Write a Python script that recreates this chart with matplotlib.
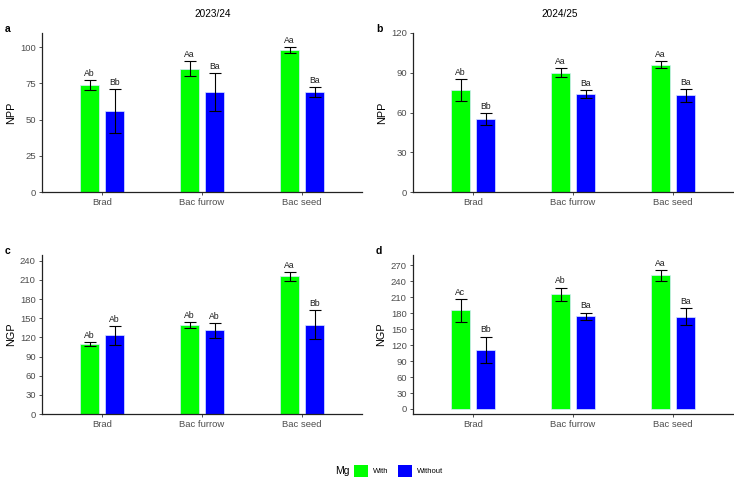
import matplotlib.pyplot as plt
import numpy as np
from matplotlib.patches import Patch

plt.rcParams['font.family'] = ['Liberation Sans', 'DejaVu Sans']

# dati
tratamentos = ['Brad', 'Bac furrow', 'Bac seed']
grupos = ['With', 'Without']
cores = ['#00FF00', '#0000FF']

npp_2324_com = [74, 85, 98]
npp_2324_com_err = [3.3, 5.2, 2.0]
npp_2324_sem = [56, 69, 69]
npp_2324_sem_err = [15, 13, 3.2]
npp_2324_let_com = ['Ab', 'Aa', 'Aa']
npp_2324_let_sem = ['Bb', 'Ba', 'Ba']

npp_2425_com = [77, 90, 96]
npp_2425_com_err = [8, 3.5, 2.5]
npp_2425_sem = [55, 74, 73]
npp_2425_sem_err = [4.3, 2.8, 5]
npp_2425_let_com = ['Ab', 'Aa', 'Aa']
npp_2425_let_sem = ['Bb', 'Ba', 'Ba']

ngp_2324_com = [109, 139, 216]
ngp_2324_com_err = [3, 5, 7]
ngp_2324_sem = [123, 131, 140]
ngp_2324_sem_err = [14.5, 12, 22.5]
ngp_2324_let_com = ['Ab', 'Ab', 'Aa']
ngp_2324_let_sem = ['Ab', 'Ab', 'Bb']

ngp_2425_com = [185, 215, 251]
ngp_2425_com_err = [21, 13, 10]
ngp_2425_sem = [111, 174, 173]
ngp_2425_sem_err = [25, 7, 16]
ngp_2425_let_com = ['Ac', 'Ab', 'Aa']
ngp_2425_let_sem = ['Bb', 'Ba', 'Ba']

W, H = 734, 479
fig = plt.figure(figsize=(W / 100, H / 100), dpi=100)


def pannello(rect, com, com_err, sem, sem_err, let_com, let_sem,
             ylabel, yticks, ylim, lettera):
    l, t, w, h = rect
    ax = fig.add_axes([l / W, 1 - (t + h) / H, w / W, h / H])
    x = np.arange(1, len(tratamentos) + 1)
    off = 0.125
    larg = 0.195
    for dx, vals, errs, lets, c in [(-off, com, com_err, let_com, cores[0]),
                                    (off, sem, sem_err, let_sem, cores[1])]:
        ax.bar(x + dx, vals, width=larg, color=c, edgecolor='#D8E8FF',
               linewidth=0.5, zorder=2)
        ax.errorbar(x + dx, vals, yerr=errs, fmt='none', ecolor='black',
                    elinewidth=0.8, capsize=4, capthick=0.8, zorder=3)
        for xi, v, e, s in zip(x + dx, vals, errs, lets):
            ax.annotate(s, (xi, v + e), xytext=(0, 1.5), textcoords='offset points',
                        ha='center', va='bottom', fontsize=6.2, color='#1A1A1A')
    ax.set_xlim(0.4, 3.6)
    ax.set_ylim(*ylim)
    ax.set_xticks(x)
    ax.set_xticklabels(tratamentos)
    ax.set_yticks(yticks)
    ax.tick_params(labelsize=6.8, labelcolor='#4D4D4D', length=2.5, width=0.6,
                   color='#333333', pad=2)
    for s in ['top', 'right']:
        ax.spines[s].set_visible(False)
    for s in ['left', 'bottom']:
        ax.spines[s].set_linewidth(0.9)
        ax.spines[s].set_color('#222222')
    ax.set_ylabel(ylabel, fontsize=7.8, labelpad=3)
    fig.text((l - 37) / W, 1 - (t - 4) / H, lettera, fontsize=7.5,
             fontweight='bold', ha='left', va='center')
    return ax


pannello((42, 33, 320, 159), npp_2324_com, npp_2324_com_err, npp_2324_sem,
         npp_2324_sem_err, npp_2324_let_com, npp_2324_let_sem,
         'NPP', [0, 25, 50, 75, 100], (0, 109.7), 'a')
pannello((413, 33, 320, 159), npp_2425_com, npp_2425_com_err, npp_2425_sem,
         npp_2425_sem_err, npp_2425_let_com, npp_2425_let_sem,
         'NPP', [0, 30, 60, 90, 120], (0, 120), 'b')
pannello((42, 255, 320, 159), ngp_2324_com, ngp_2324_com_err, ngp_2324_sem,
         ngp_2324_sem_err, ngp_2324_let_com, ngp_2324_let_sem,
         'NGP', list(range(0, 241, 30)), (0, 249), 'c')
pannello((413, 255, 320, 159), ngp_2425_com, ngp_2425_com_err, ngp_2425_sem,
         ngp_2425_sem_err, ngp_2425_let_com, ngp_2425_let_sem,
         'NGP', list(range(0, 271, 30)), (-9.4, 289), 'd')

# titoli delle colonne
fig.text(213 / W, 1 - 14 / H, '2023/24', fontsize=7.2, ha='center', va='center')
fig.text(560 / W, 1 - 14 / H, '2024/25', fontsize=7.2, ha='center', va='center')

# legenda: titolo a sinistra, come in ggplot
fig.text(335 / W, 1 - 471 / H, 'Mg', fontsize=7.5, ha='left', va='center')
maniglie = [Patch(facecolor=c, edgecolor='none') for c in cores]
fig.legend(maniglie, grupos, loc='center left', ncol=2,
           bbox_to_anchor=(354 / W, 1 - 471 / H), frameon=False,
           fontsize=5.5, handlelength=1.85, handleheight=1.85,
           columnspacing=1.2, handletextpad=0.65, borderpad=0, borderaxespad=0)

fig.savefig('out.png', dpi=100)
